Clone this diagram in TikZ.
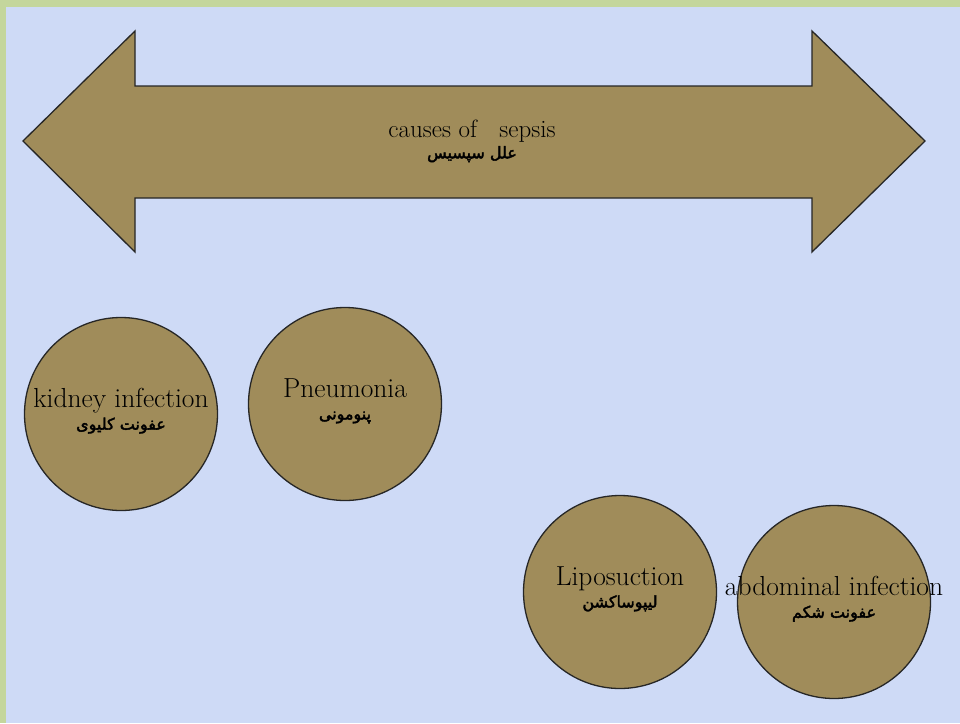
\documentclass[tikz,border=0pt]{standalone}
\usepackage{fontspec}
\newfontfamily\arabicfont[Script=Arabic,FakeBold=2.5]{DejaVu Sans}
\TeXXeTstate=1
\definecolor{frame}{RGB}{196,214,156}
\definecolor{paper}{RGB}{206,218,246}
\definecolor{olive}{RGB}{160,140,90}
\newcommand{\fasize}{\arabicfont\fontsize{16}{18}\selectfont}
\begin{document}
\begin{tikzpicture} [x=1pt, y=-1pt,
                        cause/.style={circle, draw=black!85, line width=1.3pt, fill=olive,
                                      minimum size=193pt, inner sep=0pt},
                        causetext/.style={align=center, inner sep=0pt, yshift=3pt,
                                      font=\fontsize{27.5}{30}\selectfont}]
                        % Background
                        \fill [frame] (0,0) rectangle (960,723);
                        \fill [paper] (6,7) rectangle (960,723);
                        \useasboundingbox (0,0) rectangle (960,723);

                        % Arrow
                        \draw [fill=olive, draw=black!85, line width=1.3pt, line join=miter]
                            (23,141) -- (135,31) -- (135,86) -- (812,86) -- (812,31)
                            -- (925,141) -- (812,252) -- (812,198) -- (135,198)
                            -- (135,252) -- cycle;
                        \node [align=center, font=\fontsize{25}{28}\selectfont] (sepsis) at (472,141)
                            {causes of\hspace{0.9em}sepsis\\[-7pt] {\fasize\beginR علل سپسیس\endR}};

                        % Circles
                        \node [cause, label={[causetext]center:{kidney infection\\[-8pt]{\fasize\beginR عفونت کلیوی\endR}}}]
                            (kidney) at (121,414) {};
                        \node [cause, label={[causetext]center:{Pneumonia\\[-8pt]{\fasize\beginR پنومونی\endR}}}]
                            (pneumonia) at (345,404) {};
                        \node [cause, label={[causetext]center:{Liposuction\\[-8pt]{\fasize\beginR لیپوساکشن\endR}}}]
                            (lipo) at (620,592) {};
                        \node [cause, label={[causetext]center:{abdominal infection\\[-8pt]{\fasize\beginR عفونت شکم\endR}}}]
                            (abdomen) at (834,602) {};
                    \end{tikzpicture}
\end{document}
